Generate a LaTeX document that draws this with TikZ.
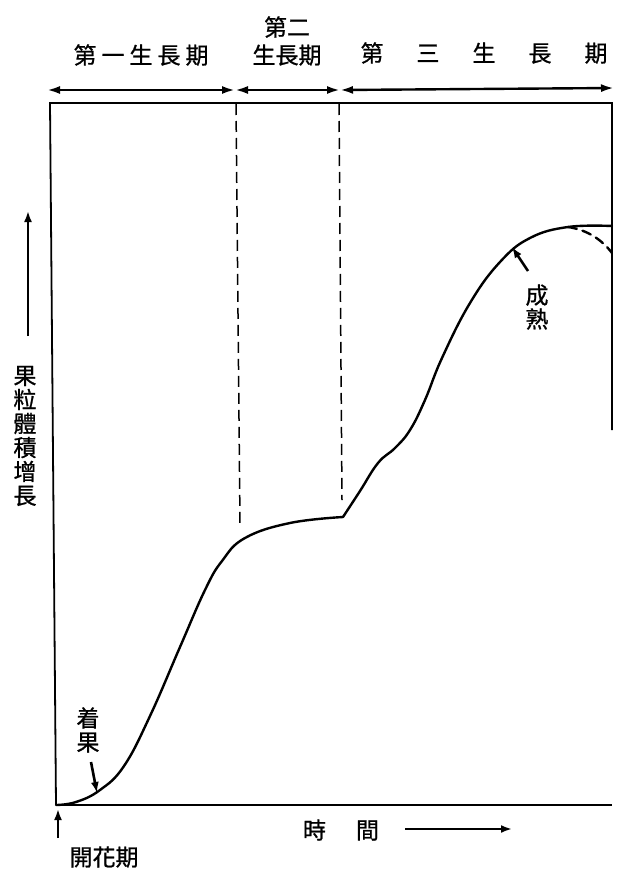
\documentclass[tikz,border=0pt]{standalone}
\usepackage{fontspec}
\newfontfamily\cjk[FakeBold=0.9]{Noto Sans CJK TC}
\usetikzlibrary{arrows.meta, positioning}
\tikzstyle{label}=[inner sep=0pt,font=\cjk\fontsize{23}{24}\selectfont]
\tikzstyle{frame}=[line width=1.8pt]
\tikzstyle{growth}=[line width=2.4pt,line cap=round]
\tikzstyle{period}=[line width=2.4pt,{Latex[length=13pt,width=8pt]}-{Latex[length=13pt,width=8pt]}]
\tikzstyle{pointer}=[line width=2.6pt,-{Latex[length=11pt,width=8pt]}]
\newcommand{\gap}{\hspace{33pt}}

\begin{document}
\begin{tikzpicture}[x=1pt,y=-1pt,node distance=6pt]
    \useasboundingbox (0,0) rectangle (617,872);

    % frame of the graph
    \coordinate (origin) at (56,805);
    \coordinate (topleft) at (50,103);
    \coordinate (topright) at (612,103);
    \coordinate (botright) at (612,805);
    \coordinate (rightend) at (612,430);
    \draw[frame] (origin) -- (topleft) -- (topright) -- (rightend);
    \draw[frame] (origin) -- (botright);

    % growth periods
    \coordinate (p0) at (47,90);
    \coordinate (p1) at (235,90);
    \coordinate (p2) at (340,90);
    \coordinate (p3) at (614,88);
    \draw[period] (p0) -- (p1);
    \draw[period] (p1) -- (p2);
    \draw[period] (p2) -- (p3);

    \node[label] (first) at (141,55) {第\kern5pt 一\kern5pt 生\kern5pt 長\kern5pt 期};
    \node[label] (secondA) at (287,27) {第二};
    \node[label] (secondB) at (287,55) {生長期};
    \node[label] (third) at (484,53) {第\gap 三\gap 生\gap 長\gap 期};

    % boundaries between periods
    \coordinate (d1top) at (236,104);
    \coordinate (d1bot) at (240,524);
    \coordinate (d2top) at (339,104);
    \coordinate (d2bot) at (342,500);
    \draw[dashed, line width=1.5pt, dash pattern=on 11pt off 6pt] (d1top) -- (d1bot);
    \draw[dashed, line width=1.5pt, dash pattern=on 11pt off 6pt] (d2top) -- (d2bot);

    % growth curve
    \coordinate (kink) at (343,517);
    \coordinate (ripe) at (568,227);
    \draw[growth] plot[smooth, tension=0.7] coordinates {(origin) (76,802) (100,790) (124,766)
        (150,716) (180,647) (205,590) (222,561) (245,538) (290,523) (kink)};
    \draw[growth] plot[smooth, tension=0.7] coordinates {(kink) (360,491) (378,463) (395,448)
        (410,430) (425,400) (442,358) (470,303) (500,262) (530,238) (ripe) (612,226)};
    \coordinate (dropend) at (612,253);
    \draw[growth, dashed, dash pattern=on 9pt off 6pt] (ripe) .. controls (588,230) and (602,240) .. (dropend);

    % fruit set
    \node[label, align=center] (set) at (88,730) {着\\果};
    \coordinate (setfrom) at (91,762);
    \coordinate (setto) at (97,793);
    \draw[pointer] (setfrom) -- (setto);

    % maturity
    \node[label, align=center] (mature) at (537,307) {成\\熟};
    \coordinate (matfrom) at (528,271);
    \coordinate (matto) at (512,247);
    \draw[pointer] (matfrom) -- (matto);

    % flowering
    \node[label] (flower) at (104,857) {開花期};
    \coordinate (flowfrom) at (58,838);
    \coordinate (flowto) at (58,809);
    \draw[pointer] (flowfrom) -- (flowto);

    % axes
    \node[label] (time) at (341,830) {時\hspace{30pt}間};
    \coordinate (timefrom) at (405,829);
    \coordinate (timeto) at (512,829);
    \draw[pointer] (timefrom) -- (timeto);

    \node[label, align=center] (volume) at (25,436) {果\\粒\\體\\積\\增\\長};
    \coordinate (volfrom) at (28,336);
    \coordinate (volto) at (28,211);
    \draw[pointer] (volfrom) -- (volto);
\end{tikzpicture}
\end{document}
